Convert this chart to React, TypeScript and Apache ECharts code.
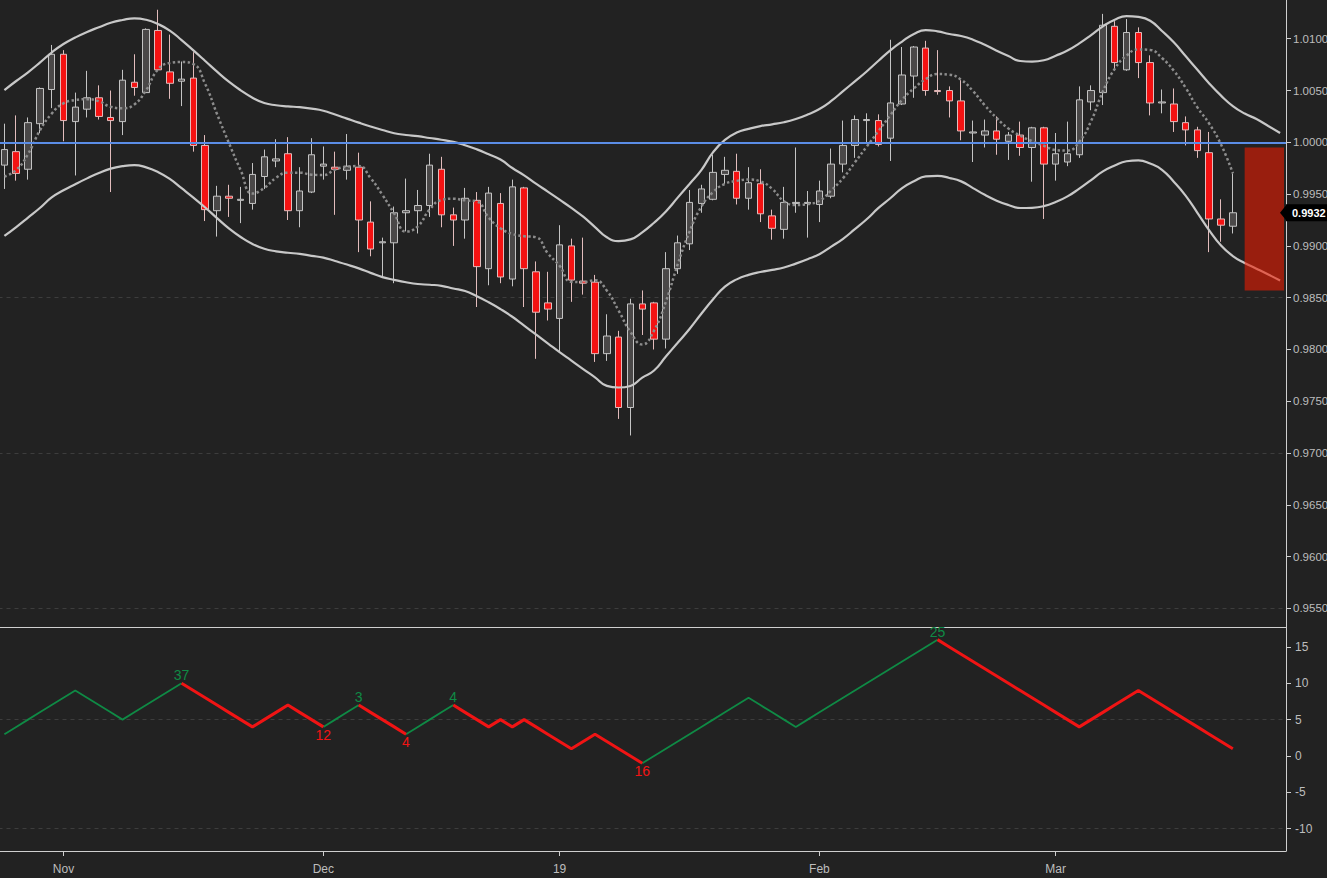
import React, { useEffect, useRef } from 'react';
import * as echarts from 'echarts';

// ---------- data ----------
const START_DATE = '2018-10-25';
const HOLIDAYS = ['2018-12-25', '2019-01-01'];
const CATEGORY_COUNT = 109; // 105 trading days + 4 projected days
const MONTHS = ['Jan', 'Feb', 'Mar', 'Apr', 'May', 'Jun', 'Jul', 'Aug', 'Sep', 'Oct', 'Nov', 'Dec'];

// [open, close, low, high]
const ohlc: number[][] = [
  [0.9978, 0.9993, 0.9955, 1.0018], [0.9991, 0.9970, 0.9963, 1.0026], [0.9974, 1.0019, 0.9964, 1.0024],
  [1.0018, 1.0052, 1.0009, 1.0053], [1.0051, 1.0085, 1.0033, 1.0094], [1.0085, 1.0021, 1.0001, 1.0089],
  [1.0020, 1.0034, 0.9968, 1.0048], [1.0032, 1.0043, 1.0024, 1.0069], [1.0043, 1.0025, 1.0022, 1.0055],
  [1.0024, 1.0021, 0.9952, 1.0050], [1.0020, 1.0060, 1.0007, 1.0070], [1.0058, 1.0053, 1.0045, 1.0085],
  [1.0048, 1.0109, 1.0048, 1.0110], [1.0108, 1.0070, 1.0070, 1.0128], [1.0068, 1.0057, 1.0042, 1.0104],
  [1.0059, 1.0061, 1.0035, 1.0078], [1.0062, 0.9997, 0.9991, 1.0087], [0.9997, 0.9935, 0.9924, 1.0007],
  [0.9934, 0.9948, 0.9909, 0.9958], [0.9948, 0.9946, 0.9928, 0.9959], [0.9944, 0.9945, 0.9922, 0.9957],
  [0.9941, 0.9969, 0.9935, 0.9980], [0.9967, 0.9986, 0.9955, 0.9993], [0.9982, 0.9984, 0.9976, 1.0003],
  [0.9989, 0.9934, 0.9925, 1.0005], [0.9934, 0.9953, 0.9918, 0.9976], [0.9952, 0.9988, 0.9951, 1.0004],
  [0.9977, 0.9979, 0.9964, 0.9996], [0.9976, 0.9974, 0.9930, 0.9991], [0.9973, 0.9977, 0.9964, 1.0008],
  [0.9976, 0.9925, 0.9894, 0.9990], [0.9923, 0.9897, 0.9890, 0.9943], [0.9903, 0.9904, 0.9870, 0.9908],
  [0.9903, 0.9932, 0.9864, 0.9938], [0.9932, 0.9934, 0.9914, 0.9965], [0.9934, 0.9939, 0.9912, 0.9954],
  [0.9939, 0.9978, 0.9928, 0.9989], [0.9974, 0.9930, 0.9918, 0.9986], [0.9930, 0.9925, 0.9900, 0.9937],
  [0.9925, 0.9946, 0.9907, 0.9956], [0.9944, 0.9880, 0.9841, 0.9952], [0.9878, 0.9951, 0.9862, 0.9957],
  [0.9941, 0.9870, 0.9864, 0.9951], [0.9868, 0.9957, 0.9861, 0.9964], [0.9956, 0.9878, 0.9841, 0.9957],
  [0.9875, 0.9836, 0.9791, 0.9885], [0.9845, 0.9839, 0.9828, 0.9875], [0.9830, 0.9901, 0.9797, 0.9920],
  [0.9900, 0.9867, 0.9846, 0.9907], [0.9866, 0.9864, 0.9853, 0.9908], [0.9865, 0.9796, 0.9788, 0.9872],
  [0.9796, 0.9813, 0.9789, 0.9834], [0.9812, 0.9744, 0.9733, 0.9818], [0.9744, 0.9844, 0.9717, 0.9849],
  [0.9844, 0.9839, 0.9814, 0.9857], [0.9845, 0.9810, 0.9800, 0.9846], [0.9810, 0.9878, 0.9801, 0.9894],
  [0.9878, 0.9903, 0.9873, 0.9910], [0.9902, 0.9942, 0.9896, 0.9954], [0.9941, 0.9955, 0.9932, 0.9959],
  [0.9945, 0.9971, 0.9944, 0.9988], [0.9969, 0.9973, 0.9960, 0.9986], [0.9972, 0.9946, 0.9940, 0.9989],
  [0.9946, 0.9961, 0.9935, 0.9976], [0.9960, 0.9931, 0.9923, 0.9974], [0.9929, 0.9917, 0.9906, 0.9935],
  [0.9916, 0.9942, 0.9907, 0.9957], [0.9941, 0.9942, 0.9932, 0.9995], [0.9941, 0.9942, 0.9908, 0.9953],
  [0.9940, 0.9953, 0.9923, 0.9963], [0.9948, 0.9979, 0.9946, 0.9994], [0.9979, 0.9997, 0.9971, 1.0021],
  [0.9997, 1.0022, 0.9985, 1.0026], [1.0021, 1.0022, 0.9999, 1.0028], [1.0021, 0.9998, 0.9996, 1.0027],
  [1.0004, 1.0038, 0.9982, 1.0099], [1.0037, 1.0065, 1.0036, 1.0092], [1.0064, 1.0092, 1.0043, 1.0093],
  [1.0091, 1.0050, 1.0045, 1.0098], [1.0050, 1.0049, 1.0046, 1.0089], [1.0050, 1.0040, 1.0024, 1.0054],
  [1.0040, 1.0011, 1.0002, 1.0060], [1.0009, 1.0010, 0.9981, 1.0021], [1.0007, 1.0011, 0.9995, 1.0022],
  [1.0011, 1.0003, 0.9988, 1.0025], [1.0001, 1.0007, 0.9983, 1.0010], [1.0007, 0.9995, 0.9987, 1.0020],
  [0.9995, 1.0014, 0.9962, 1.0015], [1.0014, 0.9979, 0.9926, 1.0015], [0.9979, 0.9989, 0.9963, 1.0009],
  [0.9981, 0.9989, 0.9977, 1.0020], [0.9988, 1.0041, 0.9985, 1.0054], [1.0039, 1.0050, 1.0031, 1.0055],
  [1.0048, 1.0113, 1.0036, 1.0124], [1.0112, 1.0077, 1.0069, 1.0117], [1.0070, 1.0106, 1.0069, 1.0119],
  [1.0106, 1.0077, 1.0062, 1.0111], [1.0077, 1.0038, 1.0026, 1.0084], [1.0038, 1.0039, 1.0028, 1.0051],
  [1.0037, 1.0020, 1.0010, 1.0052], [1.0019, 1.0012, 0.9997, 1.0025], [1.0012, 0.9992, 0.9985, 1.0015],
  [0.9990, 0.9926, 0.9894, 1.0010], [0.9926, 0.9920, 0.9904, 0.9945], [0.9919, 0.9932, 0.9912, 0.9970],
];

const upperBand = [
  1.00505, 1.00592, 1.00676, 1.00769, 1.00867, 1.00949, 1.01012, 1.01066, 1.01111, 1.01154,
  1.01181, 1.01197, 1.01183, 1.01142, 1.01079, 1.00987, 1.00887, 1.00785, 1.00682, 1.00585,
  1.00502, 1.00431, 1.00379, 1.00358, 1.00347, 1.00339, 1.00325, 1.00305, 1.00268, 1.00229,
  1.0019, 1.00153, 1.00119, 1.00088, 1.00071, 1.00059, 1.00042, 1.00025, 1.00004, 0.99972,
  0.99932, 0.99884, 0.99834, 0.99752, 0.99681, 0.99601, 0.99524, 0.99446, 0.99367, 0.99282,
  0.99182, 0.99083, 0.99046, 0.99063, 0.99131, 0.99224, 0.99333, 0.99466, 0.99598, 0.99732,
  0.99905, 1.00023, 1.00094, 1.0013, 1.00157, 1.00174, 1.00194, 1.00225, 1.00268, 1.00322,
  1.00399, 1.00494, 1.00589, 1.00684, 1.00787, 1.00888, 1.00973, 1.01046, 1.01084, 1.01071,
  1.01046, 1.01026, 1.00991, 1.00941, 1.00885, 1.00833, 1.00785, 1.0078, 1.00792, 1.00836,
  1.00886, 1.00955, 1.01035, 1.0112, 1.01184, 1.01219, 1.01211, 1.01174, 1.01075, 1.00965,
  1.00833, 1.007, 1.00568, 1.00451, 1.0035, 1.00278, 1.00225, 1.00157, 1.0009,
];

const lowerBand = [
  0.99096, 0.99182, 0.99273, 0.99366, 0.99468, 0.99537, 0.99596, 0.99652, 0.99704, 0.99746,
  0.9977, 0.9978, 0.99758, 0.99713, 0.99647, 0.99557, 0.99466, 0.99371, 0.99268, 0.99169,
  0.99086, 0.99018, 0.98972, 0.98948, 0.98934, 0.98923, 0.98904, 0.98887, 0.98854, 0.9882,
  0.98783, 0.9874, 0.98699, 0.98672, 0.98649, 0.98632, 0.98625, 0.98615, 0.98589, 0.98564,
  0.98514, 0.98456, 0.9839, 0.98316, 0.98231, 0.98145, 0.9806, 0.97974, 0.97893, 0.97811,
  0.97731, 0.97649, 0.97633, 0.97648, 0.97729, 0.97797, 0.97932, 0.98065, 0.98198, 0.98345,
  0.98485, 0.98607, 0.98677, 0.9872, 0.98748, 0.98768, 0.98791, 0.98829, 0.98872, 0.9892,
  0.98993, 0.99069, 0.99162, 0.99257, 0.99367, 0.9946, 0.99558, 0.99624, 0.99671, 0.99676,
  0.99656, 0.99623, 0.99558, 0.99493, 0.99437, 0.99395, 0.99366, 0.99368, 0.99384, 0.99423,
  0.99478, 0.99553, 0.99636, 0.9972, 0.99777, 0.99817, 0.99825, 0.99795, 0.99735, 0.9962,
  0.99486, 0.9932, 0.99151, 0.99004, 0.98902, 0.98835, 0.9878, 0.98724, 0.98666,
];

const middleLine = [
  0.9967, 0.99733, 0.99887, 1.00113, 1.00277, 1.00376, 1.00408, 1.00417, 1.00396, 1.00343,
  1.00329, 1.00365, 1.00505, 1.00703, 1.00766, 1.00775, 1.00756, 1.00563, 1.00273, 0.99996,
  0.99731, 0.99505, 0.99559, 0.99658, 0.99707, 0.99707, 0.99688, 0.99684, 0.99736, 0.99764,
  0.99771, 0.99655, 0.99493, 0.99313, 0.99138, 0.99189, 0.99351, 0.99443, 0.99456, 0.9944,
  0.99428, 0.99273, 0.99171, 0.99115, 0.99094, 0.99084, 0.98929, 0.98808, 0.98653, 0.98651,
  0.98668, 0.98569, 0.98375, 0.9817, 0.98048, 0.98183, 0.98462, 0.98821, 0.99137, 0.99378,
  0.9952, 0.99599, 0.99628, 0.99641, 0.99623, 0.99551, 0.99431, 0.99395, 0.99404, 0.99436,
  0.99536, 0.99654, 0.99806, 0.99958, 1.00109, 1.00262, 1.00411, 1.00521, 1.0061, 1.00659,
  1.00653, 1.00604, 1.00495, 1.00357, 1.00235, 1.00133, 1.00064, 1.00011, 0.99967, 0.99926,
  0.9992, 1.00005, 1.00206, 1.00492, 1.00709, 1.00837, 1.00896, 1.00892, 1.00814, 1.00692,
  1.00527, 1.00337, 1.0018, 0.99979, 0.99701,
];

const zigzag = [
  3, 4, 5, 6, 7, 8, 9, 8, 7, 6,
  5, 6, 7, 8, 9, 10, 9, 8, 7, 6,
  5, 4, 5, 6, 7, 6, 5, 4, 5, 6,
  7, 6, 5, 4, 3, 4, 5, 6, 7, 6,
  5, 4, 5, 4, 5, 4, 3, 2, 1, 2,
  3, 2, 1, 0, -1, 0, 1, 2, 3, 4,
  5, 6, 7, 8, 7, 6, 5, 4, 5, 6,
  7, 8, 9, 10, 11, 12, 13, 14, 15, 16,
  15, 14, 13, 12, 11, 10, 9, 8, 7, 6,
  5, 4, 5, 6, 7, 8, 9, 8, 7, 6,
  5, 4, 3, 2, 1,
];

// waves: [startIndex, endIndex, direction]
const waves: [number, number, 'up' | 'down'][] = [
  [0, 15, 'up'], [15, 27, 'down'], [27, 30, 'up'], [30, 34, 'down'],
  [34, 38, 'up'], [38, 54, 'down'], [54, 79, 'up'], [79, 104, 'down'],
];
const waveLabels: { i: number; text: string; dir: 'up' | 'down' }[] = [
  { i: 15, text: '37', dir: 'up' }, { i: 27, text: '12', dir: 'down' },
  { i: 30, text: '3', dir: 'up' }, { i: 34, text: '4', dir: 'down' },
  { i: 38, text: '4', dir: 'up' }, { i: 54, text: '16', dir: 'down' },
  { i: 79, text: '25', dir: 'up' },
];

const referenceLevel = 1.0;
const mainGridLevels = [0.985, 0.97, 0.955];
const lowerGridLevels = [5, -10];
const forecastZone = { fromIndex: 105, top: 0.9995, bottom: 0.9857 };

// ---------- helpers ----------
function buildDates(): string[] {
  const out: string[] = [];
  const d = new Date(START_DATE + 'T00:00:00Z');
  while (out.length < CATEGORY_COUNT) {
    const wd = d.getUTCDay();
    const iso = d.toISOString().slice(0, 10);
    if (wd !== 0 && wd !== 6 && HOLIDAYS.indexOf(iso) < 0) out.push(iso);
    d.setUTCDate(d.getUTCDate() + 1);
  }
  return out;
}
const categories = buildDates();

function periodLabel(i: number): string {
  const cur = categories[i];
  const prev = categories[i - 1];
  if (!cur || !prev) return '';
  if (cur.slice(5, 7) === prev.slice(5, 7)) return '';
  const m = Number(cur.slice(5, 7));
  return m === 1 ? cur.slice(2, 4) : MONTHS[m - 1];
}

function waveSeries(dir: 'up' | 'down'): (number | null)[] {
  const arr: (number | null)[] = categories.map(() => null);
  waves.forEach(([s, e, d]) => {
    if (d !== dir) return;
    for (let k = s; k <= e; k++) arr[k] = zigzag[k];
  });
  return arr;
}

const BG = '#222222';
const AXIS = '#cfcfcf';
const LABEL = '#bdbdbd';
const GREEN = '#0f8a45';
const RED = '#f01414';
const GRID_LINE = { color: '#3d3d3d', type: [4, 4] as any, width: 1 };
const FONT = 'Liberation Sans, Arial, sans-serif';

export default function App() {
  const ref = useRef<HTMLDivElement>(null);

  useEffect(() => {
    document.body.style.margin = '0';
    document.body.style.background = BG;
    if (!ref.current) return;
    const chart = echarts.init(ref.current, undefined, { renderer: 'svg' });
    const lastClose = ohlc[ohlc.length - 1][1];

    const labelFilter = (i: number) => periodLabel(i) !== '';

    const option: any = {
      animation: false,
      backgroundColor: BG,
      textStyle: { fontFamily: FONT },
      grid: [
        { left: -1.5, right: 41, top: 0, height: 627, outerBoundsMode: 'none', containLabel: false },
        { left: -1.5, right: 41, top: 627, height: 224, outerBoundsMode: 'none', containLabel: false },
      ],
      xAxis: [
        {
          type: 'category', gridIndex: 0, data: categories, boundaryGap: true,
          axisLine: { show: true, onZero: false, lineStyle: { color: AXIS, width: 1 } },
          axisTick: { show: false }, axisLabel: { show: false }, splitLine: { show: false },
        },
        {
          type: 'category', gridIndex: 1, data: categories, boundaryGap: true,
          axisLine: { show: true, onZero: false, lineStyle: { color: AXIS, width: 1 } },
          axisTick: { show: true, alignWithLabel: true, length: 5, interval: labelFilter, lineStyle: { color: AXIS } },
          axisLabel: {
            show: true, interval: labelFilter, color: LABEL, fontSize: 12, margin: 12,
            formatter: (_v: string, i: number) => periodLabel(i),
          },
          splitLine: { show: false },
        },
      ],
      yAxis: [
        {
          type: 'value', gridIndex: 0, position: 'right', min: 0.95321, max: 1.01374,
          splitNumber: 12, minInterval: 0.005, maxInterval: 0.005,
          axisLine: { show: true, lineStyle: { color: AXIS, width: 1 } },
          axisTick: { show: true, length: 5, lineStyle: { color: AXIS } },
          axisLabel: {
            color: LABEL, fontSize: 11.5, margin: 7, showMinLabel: false, showMaxLabel: false,
            formatter: (v: number) => v.toFixed(4),
          },
          splitLine: { show: false },
        },
        {
          type: 'value', gridIndex: 1, position: 'right', min: -13.07, max: 17.74,
          splitNumber: 6, minInterval: 5, maxInterval: 5,
          axisLine: { show: true, lineStyle: { color: AXIS, width: 1 } },
          axisTick: { show: true, length: 5, lineStyle: { color: AXIS } },
          axisLabel: {
            color: LABEL, fontSize: 12, margin: 9, showMinLabel: false, showMaxLabel: false,
            formatter: (v: number) => String(Math.round(v)),
          },
          splitLine: { show: false },
        },
      ],
      series: [
        {
          type: 'line', xAxisIndex: 0, yAxisIndex: 0, data: upperBand, smooth: true,
          symbol: 'none', silent: true, lineStyle: { color: '#c8c8c8', width: 2.2 }, z: 3,
          markLine: {
            silent: true, symbol: ['none', 'none'], z: 1, precision: 6, label: { show: false },
            data: mainGridLevels.map((v) => ({ yAxis: v, lineStyle: GRID_LINE })),
          },
        },
        {
          type: 'candlestick', xAxisIndex: 0, yAxisIndex: 0, data: ohlc, barWidth: 7, z: 2,
          itemStyle: {
            color: '#4a4848', color0: '#f41212',
            borderColor: '#c4c4c4', borderColor0: '#e2bcbc', borderWidth: 1,
          },
        },
        {
          type: 'line', xAxisIndex: 0, yAxisIndex: 0, data: middleLine, smooth: true,
          symbol: 'none', silent: true, z: 3,
          lineStyle: { color: '#8c8c8c', width: 2.5, type: [2.5, 2.5] },
          markLine: {
            silent: true, symbol: ['none', 'none'], z: 6, precision: 6,
            data: [
              {
                yAxis: referenceLevel, label: { show: false },
                lineStyle: { color: '#5b8de6', width: 2, type: 'solid' },
              },
              {
                yAxis: lastClose,
                lineStyle: { color: 'rgba(0,0,0,0)', width: 0 },
                label: {
                  show: true, position: 'end', distance: 0,
                  formatter: () => lastClose.toFixed(4),
                  color: '#ffffff', fontWeight: 'bold', fontSize: 11,
                  backgroundColor: '#000000', padding: [3, 2, 3, 6],
                },
              },
            ],
          },
        },
        {
          type: 'line', xAxisIndex: 0, yAxisIndex: 0, data: lowerBand, smooth: true,
          symbol: 'none', silent: true, lineStyle: { color: '#c8c8c8', width: 2.2 }, z: 3,
        },
        {
          type: 'line', xAxisIndex: 1, yAxisIndex: 1, data: waveSeries('up'),
          symbol: 'none', silent: true, connectNulls: false,
          lineStyle: { color: GREEN, width: 1.8 },
          markLine: {
            silent: true, symbol: ['none', 'none'], z: 1, precision: 4, label: { show: false },
            data: lowerGridLevels.map((v) => ({ yAxis: v, lineStyle: GRID_LINE })),
          },
          markPoint: {
            silent: true, symbol: 'circle', symbolSize: 0,
            data: waveLabels.filter((w) => w.dir === 'up').map((w) => ({
              coord: [w.i, zigzag[w.i]], value: w.text,
              label: { show: true, position: 'top', distance: 1, color: GREEN, fontSize: 14, formatter: w.text },
            })),
          },
        },
        {
          type: 'line', xAxisIndex: 1, yAxisIndex: 1, data: waveSeries('down'),
          symbol: 'none', silent: true, connectNulls: false,
          lineStyle: { color: RED, width: 3 },
          markPoint: {
            silent: true, symbol: 'circle', symbolSize: 0,
            data: waveLabels.filter((w) => w.dir === 'down').map((w) => ({
              coord: [w.i, zigzag[w.i]], value: w.text,
              label: { show: true, position: 'bottom', distance: 1, color: RED, fontSize: 14, formatter: w.text },
            })),
          },
        },
      ],
    };

    chart.setOption(option);

    // forecast zone and price tag, positioned through the chart's own scales
    const lastCat = categories.length - 1;
    const cLast = chart.convertToPixel({ xAxisIndex: 0 }, categories[lastCat]) as number;
    const cPrev = chart.convertToPixel({ xAxisIndex: 0 }, categories[lastCat - 1]) as number;
    const gridRight = cLast + (cLast - cPrev) / 2;
    const zx0 = chart.convertToPixel({ xAxisIndex: 0 }, categories[forecastZone.fromIndex]) as number;
    const zy0 = chart.convertToPixel({ yAxisIndex: 0 }, forecastZone.top) as number;
    const zy1 = chart.convertToPixel({ yAxisIndex: 0 }, forecastZone.bottom) as number;
    const py = chart.convertToPixel({ yAxisIndex: 0 }, lastClose) as number;

    chart.setOption({
      graphic: [
        {
          type: 'rect', silent: true, z: 10,
          shape: { x: zx0, y: zy0, width: gridRight - 2 - zx0, height: zy1 - zy0 },
          style: { fill: 'rgba(239, 27, 0, 0.58)' },
        },
        {
          type: 'polygon', silent: true, z: 20,
          shape: { points: [[gridRight - 6, py], [gridRight + 0.5, py - 8], [gridRight + 0.5, py + 8]] },
          style: { fill: '#000000' },
        },
      ],
    });

    return () => chart.dispose();
  }, []);

  return (
    <div
      ref={ref}
      style={{ position: 'absolute', left: 0, top: 0, width: 1327, height: 878, background: BG }}
    />
  );
}
